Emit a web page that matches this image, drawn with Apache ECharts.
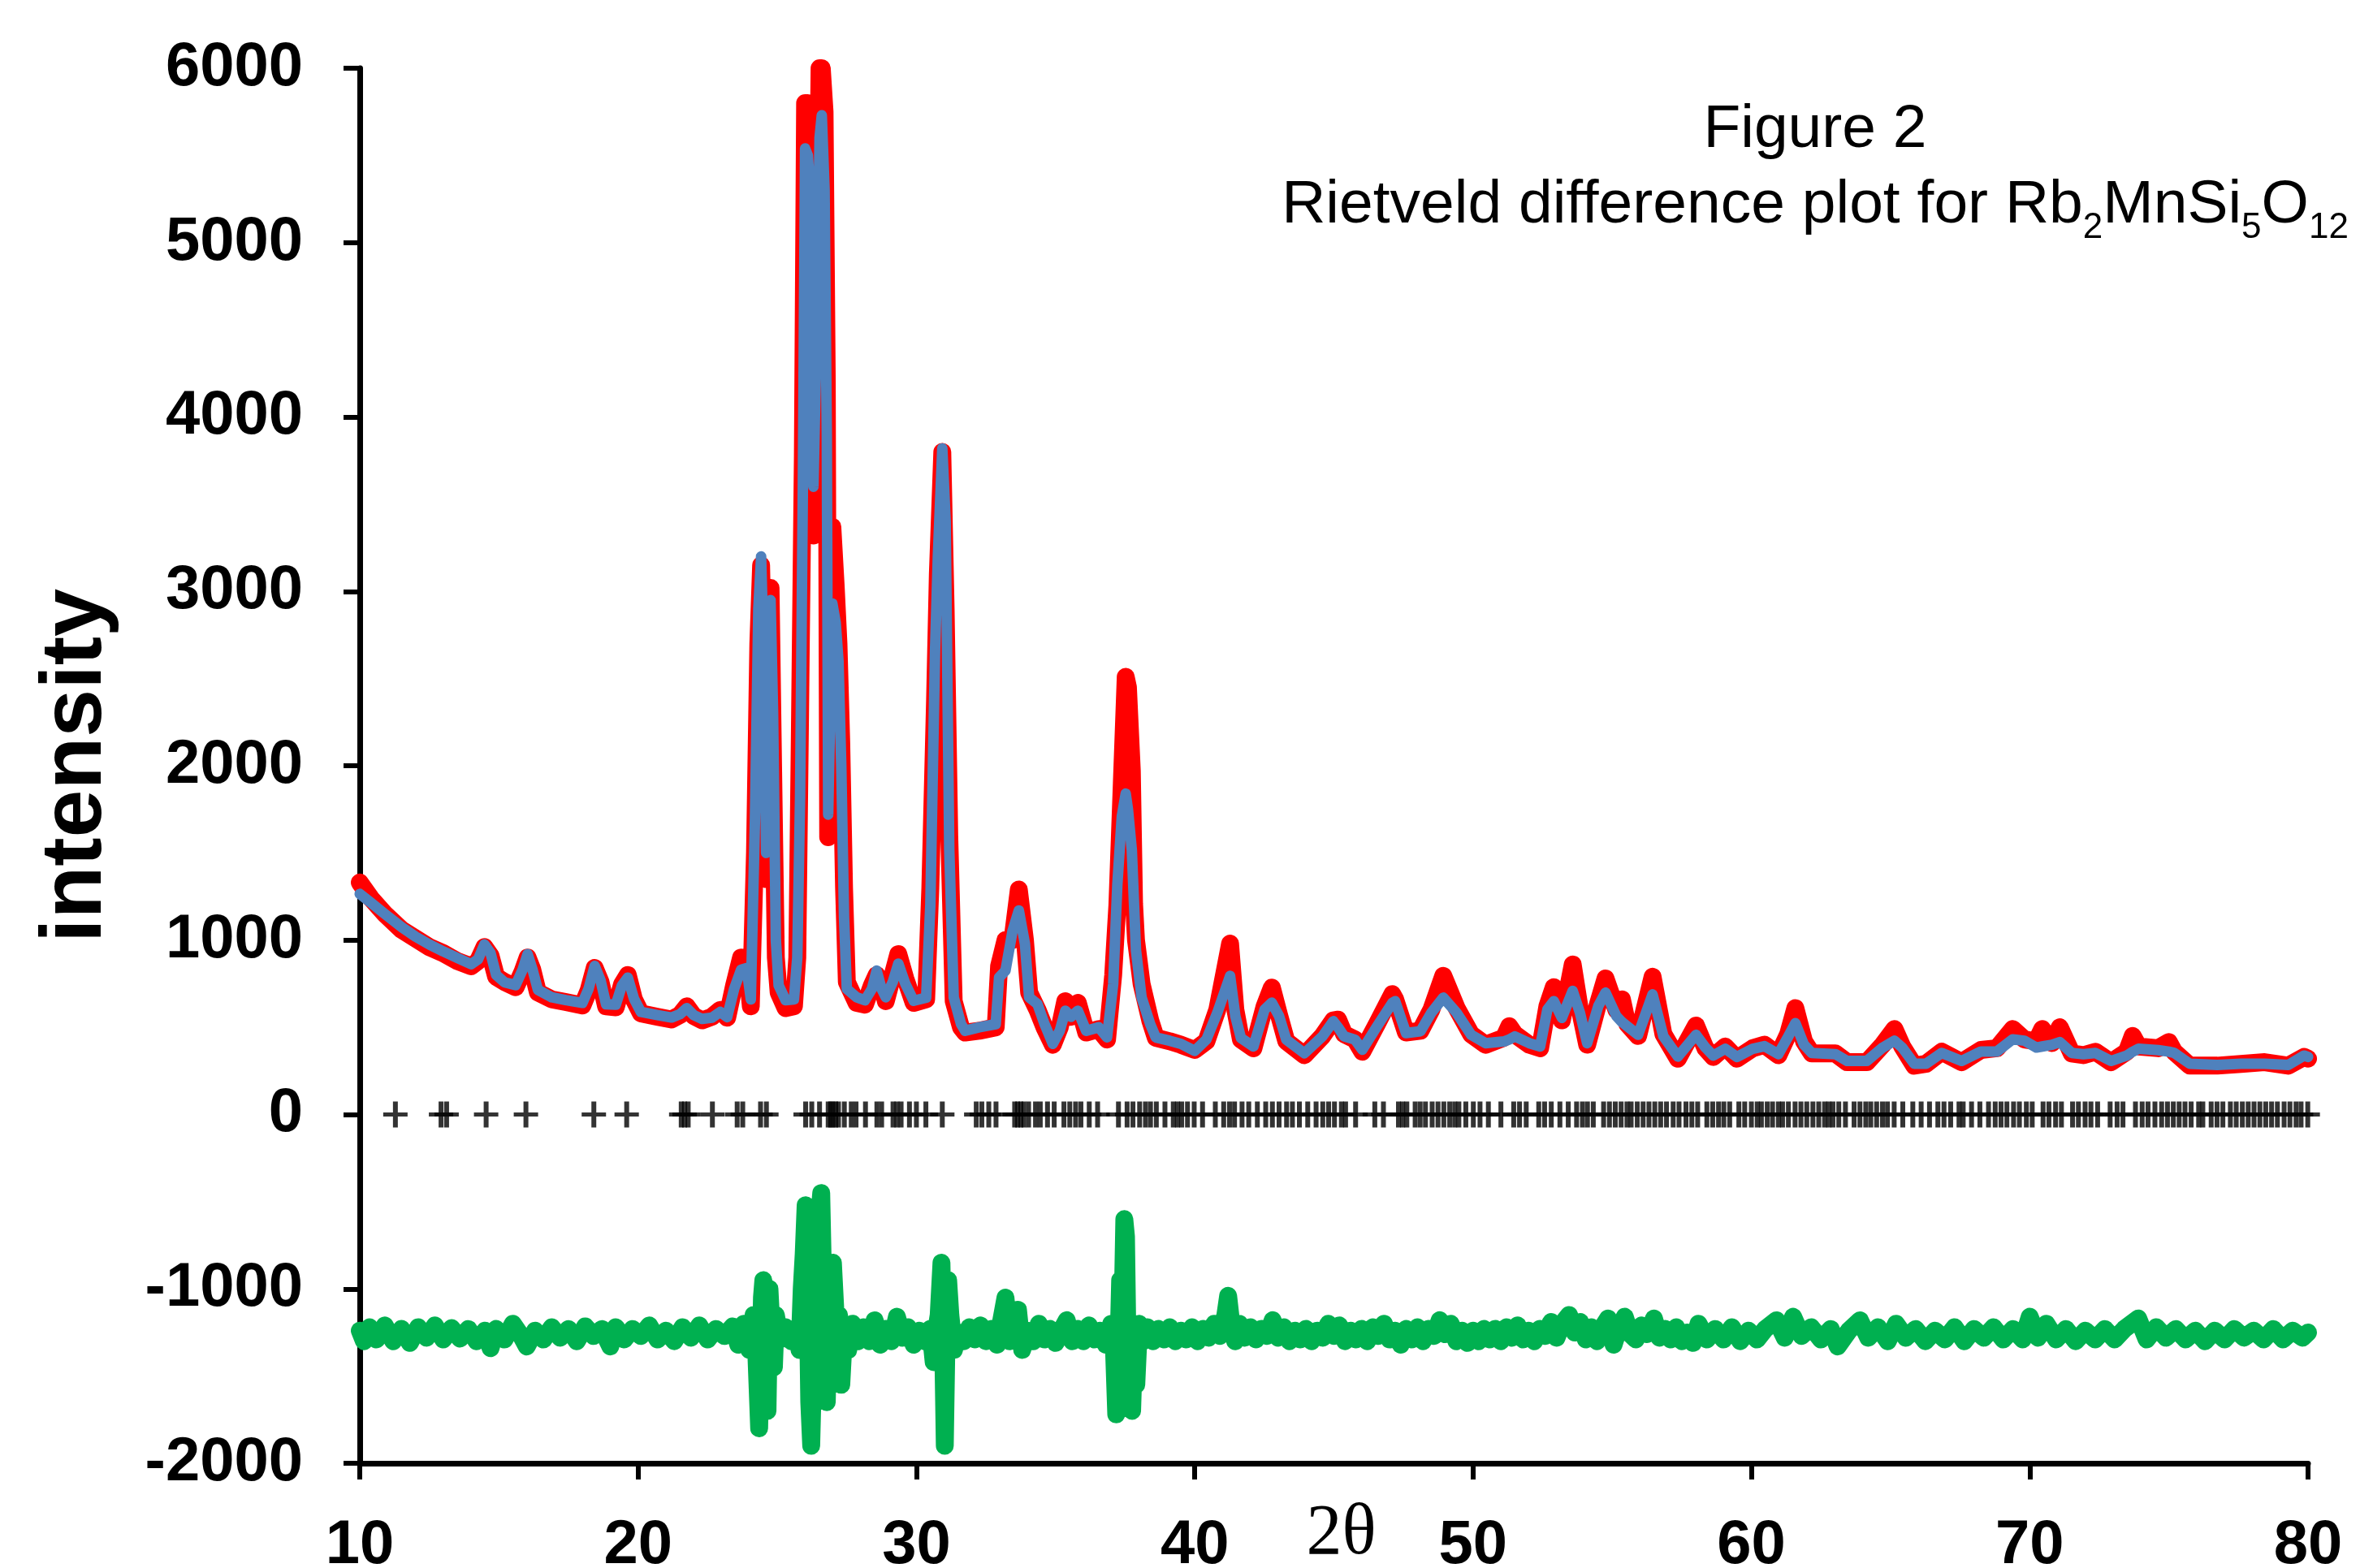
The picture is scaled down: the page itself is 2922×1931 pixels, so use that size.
<!DOCTYPE html>
<html>
<head>
<meta charset="utf-8">
<script src="https://cdn.jsdelivr.net/npm/echarts@6/dist/echarts.min.js"></script>
<style>
html,body{margin:0;padding:0;background:#fff;}
#c{width:2922px;height:1931px;}
</style>
</head>
<body>
<div id="c"></div>
<script>
// calculated profile (2theta, intensity)
const calcPoints = [
[10.0,1265],[10.4,1215],[10.9,1150],[11.5,1075],[12.0,1020],[12.5,975],[13.0,935],[13.5,898],[14.0,862],[14.25,890],
[14.48,975],[14.7,925],[14.9,800],[15.2,758],[15.6,742],[15.85,830],[16.03,920],[16.2,835],[16.4,715],[16.9,672],
[17.4,656],[18.0,640],[18.22,720],[18.44,852],[18.65,770],[18.85,632],[19.2,630],[19.42,740],[19.63,785],[19.85,665],
[20.1,588],[20.7,570],[21.2,556],[21.5,575],[21.75,610],[22.0,570],[22.3,548],[22.65,555],[22.95,588],[23.2,558],
[23.45,720],[23.7,830],[23.9,840],[24.05,660],[24.2,1700],[24.32,2900],[24.42,3200],[24.52,2600],[24.6,1500],[24.68,2300],
[24.76,2950],[24.85,2300],[24.95,1000],[25.05,740],[25.3,655],[25.6,660],[25.72,900],[25.82,1820],[25.92,3600],[26.0,5540],
[26.1,5500],[26.18,5300],[26.3,3600],[26.42,4500],[26.52,5600],[26.6,5730],[26.7,5300],[26.78,3900],[26.83,1720],[26.9,2300],
[26.98,2930],[27.1,2820],[27.2,2600],[27.3,2000],[27.4,1130],[27.5,720],[27.85,672],[28.15,655],[28.4,720],[28.57,825],
[28.75,720],[28.9,672],[29.15,760],[29.35,865],[29.6,750],[29.9,652],[30.35,670],[30.5,1200],[30.67,2660],[30.77,3200],
[30.93,3820],[31.05,3400],[31.18,1520],[31.34,672],[31.6,520],[31.75,480],[32.25,500],[32.85,518],[32.97,786],[33.2,825],
[33.45,1050],[33.68,1170],[33.9,978],[34.05,672],[34.35,633],[34.6,520],[34.9,405],[35.15,480],[35.35,595],[35.55,560],
[35.8,595],[36.1,480],[36.55,500],[36.85,442],[37.07,748],[37.22,1320],[37.38,1710],[37.52,1840],[37.6,1750],[37.74,1515],
[37.82,1200],[37.89,940],[38.09,672],[38.4,518],[38.6,442],[39.1,423],[39.5,405],[40.0,365],[40.42,430],[40.81,583],
[41.27,795],[41.46,564],[41.66,438],[42.11,390],[42.51,602],[42.77,641],[43.03,564],[43.29,429],[43.94,351],[44.59,448],
[44.98,535],[45.15,500],[45.37,448],[45.76,429],[46.02,371],[46.55,506],[47.1,640],[47.2,650],[47.59,467],[48.11,477],
[48.5,583],[48.93,670],[49.41,583],[49.93,457],[50.45,409],[51.11,419],[51.3,430],[51.5,448],[52.02,409],[52.41,390],
[52.67,602],[52.9,650],[53.19,554],[53.58,709],[53.84,583],[54.1,409],[54.5,622],[54.76,699],[55.15,564],[55.35,530],
[55.54,506],[55.93,457],[56.45,689],[56.84,448],[57.36,332],[58.01,457],[58.35,384],[58.63,338],[59.06,377],[59.48,330],
[60.05,377],[60.47,392],[60.97,346],[61.32,446],[61.58,524],[61.89,400],[62.17,353],[63.02,346],[63.44,307],[64.15,307],
[64.72,384],[65.14,423],[65.42,384],[65.85,291],[66.27,291],[66.84,353],[67.55,307],[68.25,361],[68.82,361],[69.39,431],
[69.81,423],[70.24,384],[70.45,390],[70.8,400],[71.08,415],[71.51,353],[71.93,346],[72.36,353],[72.92,307],[73.49,338],
[73.7,360],[73.91,377],[74.62,369],[75.0,360],[75.19,353],[75.75,291],[76.74,284],[77.59,291],[78.44,291],[79.29,284],
[79.86,338],[80.0,330]
];

// observed profile (2theta, intensity)
const obsPoints = [
[10.0,1330],[10.4,1240],[10.9,1150],[11.5,1060],[12.0,1010],[12.5,960],[13.0,925],[13.5,880],[14.0,850],[14.25,880],
[14.48,960],[14.7,910],[14.9,790],[15.2,760],[15.6,730],[15.85,820],[16.03,900],[16.2,830],[16.4,700],[16.9,660],
[17.4,645],[18.0,625],[18.22,710],[18.44,840],[18.65,760],[18.85,620],[19.2,615],[19.42,745],[19.63,800],[19.85,660],
[20.1,580],[20.7,560],[21.2,545],[21.5,570],[21.75,620],[22.0,565],[22.3,540],[22.65,560],[22.95,600],[23.2,555],
[23.45,740],[23.7,900],[23.9,880],[24.05,620],[24.2,1500],[24.32,2700],[24.42,3150],[24.52,2400],[24.6,1350],[24.68,2200],
[24.76,3020],[24.85,2000],[24.95,900],[25.05,700],[25.3,610],[25.6,620],[25.72,900],[25.82,2300],[25.92,3780],[26.0,5800],
[26.1,5800],[26.18,5650],[26.3,3320],[26.42,4700],[26.52,6000],[26.6,6000],[26.7,5750],[26.78,4200],[26.83,1590],[26.9,2500],
[26.98,3370],[27.1,3030],[27.2,2700],[27.3,2130],[27.4,1300],[27.5,760],[27.85,640],[28.15,630],[28.4,740],[28.57,800],
[28.75,750],[28.9,650],[29.15,800],[29.35,920],[29.6,780],[29.9,640],[30.35,660],[30.5,1300],[30.67,2380],[30.77,3100],
[30.93,3800],[31.05,2900],[31.18,1600],[31.34,650],[31.6,500],[31.75,470],[32.25,480],[32.85,500],[32.97,850],[33.2,1000],
[33.45,1000],[33.68,1290],[33.9,1000],[34.05,700],[34.35,600],[34.6,500],[34.9,400],[35.15,500],[35.35,650],[35.55,560],
[35.8,640],[36.1,470],[36.55,490],[36.85,430],[37.07,800],[37.22,1200],[37.38,1900],[37.52,2510],[37.6,2450],[37.74,1970],
[37.82,1210],[37.89,1000],[38.09,750],[38.4,540],[38.6,440],[39.1,420],[39.5,400],[40.0,370],[40.42,420],[40.81,600],
[41.27,980],[41.46,600],[41.66,430],[42.11,380],[42.51,620],[42.77,728],[43.03,570],[43.29,420],[43.94,340],[44.59,450],
[44.98,540],[45.15,544],[45.37,460],[45.76,430],[46.02,360],[46.55,520],[47.1,690],[47.2,660],[47.59,470],[48.11,480],
[48.5,600],[48.93,795],[49.41,610],[49.93,460],[50.45,400],[51.11,440],[51.3,506],[51.5,460],[52.02,400],[52.41,380],
[52.67,620],[52.9,730],[53.19,540],[53.58,860],[53.84,600],[54.1,400],[54.5,640],[54.76,780],[55.15,600],[55.35,660],
[55.54,520],[55.93,450],[56.45,790],[56.84,460],[57.36,320],[58.01,510],[58.35,380],[58.63,330],[59.06,390],[59.48,320],
[60.05,380],[60.47,400],[60.97,340],[61.32,460],[61.58,610],[61.89,420],[62.17,350],[63.02,350],[63.44,300],[64.15,300],
[64.72,400],[65.14,490],[65.42,390],[65.85,280],[66.27,290],[66.84,360],[67.55,300],[68.25,370],[68.82,380],[69.39,490],
[69.81,430],[70.24,420],[70.45,490],[70.8,410],[71.08,500],[71.51,350],[71.93,340],[72.36,360],[72.92,300],[73.49,360],
[73.7,450],[73.91,390],[74.62,380],[75.0,415],[75.19,360],[75.75,280],[76.74,280],[77.59,290],[78.44,300],[79.29,280],
[79.86,330],[80.0,320]
];

// difference curve, offset (2theta, intensity)
const diffPoints = [
[10.0,-1240],[10.15,-1300],[10.35,-1220],[10.6,-1290],[10.9,-1210],[11.2,-1300],[11.5,-1230],[11.8,-1310],[12.1,-1220],[12.4,-1280],
[12.7,-1210],[13.0,-1290],[13.3,-1225],[13.6,-1285],[13.9,-1230],[14.2,-1300],[14.5,-1240],[14.7,-1340],[14.9,-1230],[15.2,-1290],
[15.5,-1200],[15.8,-1270],[16.0,-1330],[16.3,-1240],[16.6,-1290],[16.9,-1220],[17.2,-1280],[17.5,-1230],[17.8,-1300],[18.1,-1215],
[18.4,-1270],[18.7,-1230],[19.0,-1330],[19.2,-1220],[19.5,-1290],[19.8,-1230],[20.1,-1270],[20.4,-1210],[20.7,-1290],[21.0,-1240],
[21.3,-1300],[21.6,-1220],[21.9,-1280],[22.2,-1210],[22.5,-1290],[22.8,-1230],[23.1,-1270],[23.4,-1215],[23.6,-1320],[23.8,-1200],
[24.0,-1350],[24.15,-1150],[24.25,-1380],[24.35,-1800],[24.45,-1050],[24.5,-950],[24.58,-1350],[24.65,-1700],[24.72,-1000],[24.8,-1250],
[24.88,-1450],[24.95,-1150],[25.1,-1290],[25.3,-1220],[25.5,-1300],[25.7,-1230],[25.8,-1350],[25.88,-1000],[25.95,-800],[26.02,-520],
[26.08,-900],[26.15,-1650],[26.22,-1900],[26.3,-1400],[26.38,-800],[26.45,-1100],[26.52,-560],[26.58,-450],[26.64,-900],[26.7,-1200],
[26.78,-1650],[26.85,-1150],[26.92,-1000],[27.0,-850],[27.08,-1100],[27.15,-1500],[27.22,-1150],[27.3,-1550],[27.4,-1250],[27.55,-1350],
[27.7,-1200],[27.9,-1300],[28.1,-1220],[28.3,-1300],[28.5,-1180],[28.7,-1320],[28.9,-1230],[29.1,-1300],[29.3,-1160],[29.5,-1280],
[29.7,-1220],[29.9,-1320],[30.1,-1240],[30.3,-1300],[30.5,-1230],[30.62,-1420],[30.7,-1250],[30.8,-1150],[30.9,-850],[30.97,-1400],
[31.02,-1900],[31.08,-1300],[31.14,-950],[31.22,-1150],[31.35,-1350],[31.5,-1250],[31.7,-1300],[31.9,-1220],[32.1,-1290],[32.3,-1210],
[32.5,-1300],[32.7,-1230],[32.9,-1320],[33.05,-1180],[33.2,-1050],[33.35,-1300],[33.5,-1200],[33.65,-1120],[33.8,-1350],[34.0,-1240],
[34.2,-1300],[34.4,-1200],[34.6,-1290],[34.8,-1230],[35.0,-1310],[35.2,-1240],[35.4,-1180],[35.6,-1300],[35.8,-1230],[36.0,-1300],
[36.2,-1210],[36.4,-1290],[36.6,-1240],[36.8,-1320],[37.0,-1200],[37.1,-1350],[37.18,-1720],[37.25,-1400],[37.32,-950],[37.4,-1200],
[37.47,-600],[37.53,-700],[37.6,-1500],[37.68,-1300],[37.75,-1700],[37.82,-1350],[37.9,-1550],[38.0,-1200],[38.15,-1300],[38.3,-1220],
[38.5,-1300],[38.7,-1230],[38.9,-1290],[39.1,-1220],[39.3,-1300],[39.5,-1240],[39.7,-1290],[39.9,-1220],[40.1,-1300],[40.3,-1230],
[40.5,-1280],[40.7,-1200],[40.9,-1270],[41.1,-1150],[41.2,-1040],[41.3,-1180],[41.45,-1300],[41.6,-1200],[41.8,-1280],[42.0,-1220],
[42.2,-1290],[42.4,-1230],[42.6,-1270],[42.8,-1180],[43.0,-1280],[43.2,-1220],[43.4,-1300],[43.6,-1240],[43.8,-1290],[44.0,-1230],
[44.2,-1300],[44.4,-1240],[44.6,-1280],[44.8,-1200],[45.0,-1270],[45.2,-1210],[45.4,-1300],[45.6,-1240],[45.8,-1290],[46.0,-1230],
[46.2,-1300],[46.4,-1220],[46.6,-1270],[46.8,-1200],[47.0,-1290],[47.2,-1240],[47.4,-1320],[47.6,-1230],[47.8,-1290],[48.0,-1220],
[48.2,-1300],[48.4,-1230],[48.6,-1270],[48.8,-1180],[49.0,-1260],[49.2,-1200],[49.4,-1300],[49.6,-1240],[49.8,-1310],[50.0,-1240],
[50.2,-1300],[50.4,-1230],[50.6,-1290],[50.8,-1230],[51.0,-1300],[51.2,-1220],[51.4,-1280],[51.6,-1210],[51.8,-1290],[52.0,-1240],
[52.2,-1300],[52.4,-1230],[52.6,-1270],[52.8,-1190],[53.0,-1280],[53.2,-1200],[53.45,-1150],[53.65,-1250],[53.85,-1190],[54.05,-1290],
[54.25,-1220],[54.45,-1300],[54.65,-1220],[54.85,-1170],[55.05,-1320],[55.25,-1220],[55.45,-1160],[55.65,-1260],[55.85,-1290],[56.05,-1210],
[56.25,-1260],[56.5,-1170],[56.7,-1280],[56.9,-1230],[57.1,-1290],[57.3,-1220],[57.5,-1300],[57.7,-1250],[57.9,-1310],[58.1,-1200],
[58.4,-1290],[58.7,-1230],[59.0,-1290],[59.3,-1220],[59.6,-1300],[59.9,-1240],[60.2,-1290],[60.5,-1230],[60.9,-1180],[61.2,-1280],
[61.5,-1160],[61.8,-1270],[62.15,-1220],[62.5,-1290],[62.85,-1230],[63.1,-1330],[63.5,-1240],[63.9,-1180],[64.2,-1280],[64.55,-1220],
[64.9,-1300],[65.2,-1200],[65.55,-1280],[65.9,-1230],[66.25,-1300],[66.6,-1240],[66.95,-1290],[67.3,-1220],[67.65,-1300],[68.0,-1230],
[68.35,-1280],[68.7,-1220],[69.05,-1290],[69.4,-1230],[69.75,-1290],[70.0,-1160],[70.3,-1280],[70.6,-1200],[70.95,-1290],[71.3,-1230],
[71.65,-1300],[72.0,-1240],[72.35,-1290],[72.7,-1230],[73.05,-1290],[73.4,-1230],[73.9,-1170],[74.2,-1290],[74.55,-1220],[74.9,-1280],
[75.25,-1230],[75.6,-1290],[75.95,-1240],[76.3,-1300],[76.65,-1240],[77.0,-1290],[77.35,-1230],[77.7,-1280],[78.05,-1240],[78.4,-1290],
[78.75,-1230],[79.1,-1290],[79.45,-1240],[79.8,-1280],[80.0,-1250]
];

// Bragg reflection positions (2theta), drawn at intensity 0
const reflections = [
11.28,12.92,13.12,14.54,15.97,18.41,19.59,21.55,21.67,21.80,22.67,23.56,23.76,24.40,24.61,
26.02,26.24,26.52,26.83,26.92,27.0,27.1,27.2,27.41,27.66,27.83,28.17,28.58,28.75,29.16,29.3,29.45,29.75,30.0,30.34,30.93,
32.15,32.35,32.6,32.86,33.53,33.64,33.75,33.86,34.03,34.28,34.45,34.71,34.95,
35.30,35.51,35.72,35.91,36.21,36.51,37.26,37.57,37.78,38.02,38.23,38.41,38.62,38.93,39.23,39.38,39.53,39.74,39.98,40.28,
40.74,41.04,41.25,41.43,41.70,41.94,42.25,42.55,42.79,43.03,43.30,43.51,43.76,44.06,44.36,44.60,44.81,45.02,45.27,45.42,
45.78,46.47,46.78,47.32,47.47,47.62,47.92,48.10,48.29,48.53,48.74,48.95,49.16,49.34,49.49,49.74,50.01,50.25,50.55,51.00,
51.46,51.67,51.91,52.36,52.57,52.81,53.12,53.42,53.72,53.93,54.11,54.32,54.69,54.90,55.11,55.32,55.53,55.68,55.90,56.11,
56.32,56.53,56.74,56.95,57.19,57.40,57.65,57.86,58.07,58.40,58.61,58.82,59.01,59.22,59.55,59.76,60.00,60.21,60.36,60.57,
60.76,60.97,61.12,61.33,61.57,61.78,61.99,62.21,62.42,62.63,62.78,62.93,63.14,63.38,63.69,63.90,64.11,64.29,64.50,64.71,
64.89,65.13,65.44,65.80,66.10,66.40,66.70,66.92,67.16,67.46,67.61,67.91,68.21,68.52,68.76,68.97,69.18,69.42,69.63,69.88,
70.09,70.48,70.69,70.93,71.14,71.54,71.75,71.99,72.20,72.44,72.89,73.14,73.35,73.80,74.04,74.25,74.50,74.74,74.95,75.16,
75.37,75.58,75.80,76.07,76.22,76.52,76.73,76.94,77.21,77.42,77.64,77.85,78.06,78.27,78.48,78.69,78.90,79.14,79.35,79.57,
79.75,79.99
];

const xRange = [10, 80, 10];      // min, max, tick step
const yRange = [-2000, 6000, 1000];

const plusSymbol = 'path://M12,0H18V13.5H30V18.5H18V32H12V18.5H0V13.5H12Z';

const chart = echarts.init(document.getElementById('c'), null, {renderer: 'canvas'});
const tickFont = {fontFamily: 'Liberation Sans', fontWeight: 'bold', fontSize: 76, color: '#000'};
const plainNumber = function (v) { return String(v); };

chart.setOption({
  animation: false,
  backgroundColor: '#ffffff',
  title: [
    {
      text: 'Figure 2',
      left: 2230, top: 118, textAlign: 'center',
      textStyle: {fontFamily: 'Liberation Sans', fontSize: 75, fontWeight: 'normal', color: '#000'}
    },
    {
      text: 'Rietveld difference plot for Rb{s|2}MnSi{s|5}O{s|12}',
      left: 2230, top: 198, textAlign: 'center',
      textStyle: {
        fontFamily: 'Liberation Sans', fontSize: 75, fontWeight: 'normal', color: '#000', lineHeight: 100,
        rich: {
          s: {fontFamily: 'Liberation Sans', fontSize: 44, lineHeight: 44, verticalAlign: 'bottom', color: '#000'}
        }
      }
    }
  ],
  grid: {left: 443, right: 80, top: 84, bottom: 129, containLabel: false, outerBoundsMode: 'none'},
  xAxis: {
    type: 'value', min: xRange[0], max: xRange[1], interval: xRange[2],
    name: '2θ', nameLocation: 'middle', nameGap: 44, nameMoveOverlap: false,
    nameTextStyle: {fontFamily: 'Liberation Serif', fontSize: 88, color: '#000', padding: [0, 0, 0, 18]},
    axisLine: {show: true, onZero: false, lineStyle: {color: '#000', width: 7}},
    axisTick: {show: true, inside: false, length: 20, lineStyle: {color: '#000', width: 6}},
    axisLabel: Object.assign({margin: 64, hideOverlap: false, formatter: plainNumber}, tickFont),
    splitLine: {show: false}
  },
  yAxis: {
    type: 'value', min: yRange[0], max: yRange[1], interval: yRange[2],
    name: 'intensity', nameLocation: 'middle', nameRotate: 90, nameGap: 295, nameMoveOverlap: false,
    nameTextStyle: {fontFamily: 'Liberation Sans', fontWeight: 'bold', fontSize: 106, color: '#000'},
    axisLine: {show: true, onZero: false, lineStyle: {color: '#000', width: 7}},
    axisTick: {show: true, inside: false, length: 20, lineStyle: {color: '#000', width: 6}},
    axisLabel: Object.assign({margin: 70, hideOverlap: false, formatter: plainNumber}, tickFont),
    splitLine: {show: false}
  },
  series: [
    {
      name: 'observed', type: 'line', data: obsPoints, symbol: 'none', showSymbol: false,
      lineStyle: {color: '#ff0000', width: 22, join: 'round', cap: 'round'}, z: 2, silent: true
    },
    {
      name: 'calculated', type: 'line', data: calcPoints, symbol: 'none', showSymbol: false,
      lineStyle: {color: '#4f81bd', width: 13, join: 'round', cap: 'round'}, z: 3, silent: true
    },
    {
      name: 'difference', type: 'line', data: diffPoints, symbol: 'none', showSymbol: false,
      lineStyle: {color: '#00b050', width: 22, join: 'round', cap: 'round'}, z: 2, silent: true
    },
    {
      name: 'reflections', type: 'scatter', data: reflections.map(t => [t, 0]),
      symbol: plusSymbol, symbolSize: [30, 32], itemStyle: {color: '#000'}, z: 4, silent: true
    }
  ]
});
</script>
</body>
</html>
